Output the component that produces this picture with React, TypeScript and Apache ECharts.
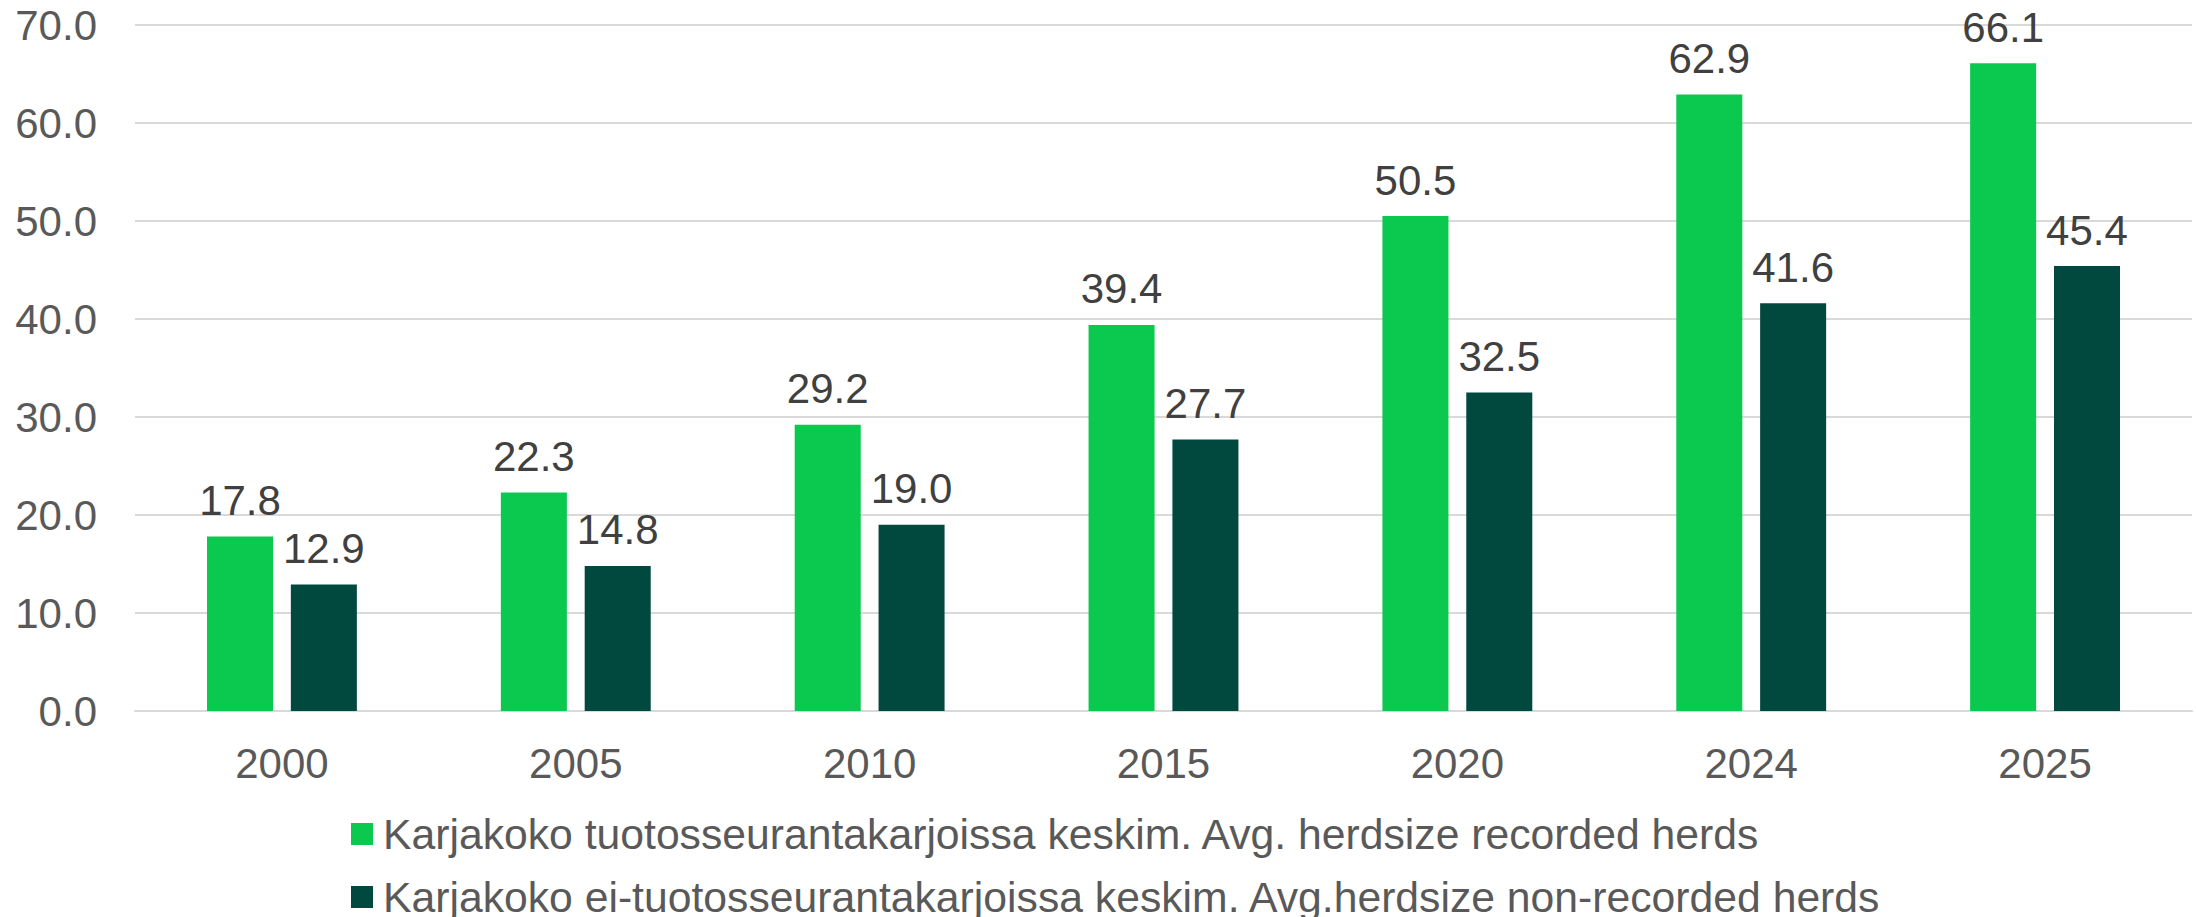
import React, { useEffect, useRef } from "react";
import * as echarts from "echarts";

const categories = ["2000", "2005", "2010", "2015", "2020", "2024", "2025"];
const recordedName = "Karjakoko tuotosseurantakarjoissa keskim. Avg. herdsize recorded herds";
const nonRecordedName = "Karjakoko ei-tuotosseurantakarjoissa keskim. Avg.herdsize non-recorded herds";
const recorded = [17.8, 22.3, 29.2, 39.4, 50.5, 62.9, 66.1];
const nonRecorded = [12.9, 14.8, 19.0, 27.7, 32.5, 41.6, 45.4];

const FONT = "'Liberation Sans', Arial, sans-serif";

export default function App() {
  const ref = useRef<HTMLDivElement>(null);
  useEffect(() => {
    if (!ref.current) return;
    const chart = echarts.init(ref.current, undefined, { renderer: "svg" });
    const label = {
      show: true,
      position: "top",
      distance: 15,
      fontSize: 42,
      fontFamily: FONT,
      color: "#404040",
      formatter: (p: any) => Number(p.value).toFixed(1),
    };
    chart.setOption({
      animation: false,
      textStyle: { fontFamily: FONT },
      grid: { left: 135, right: 4, top: 25, bottom: 206, containLabel: false },
      legend: {
        orient: "vertical",
        left: 351,
        top: 809,
        width: 1845,
        height: 200,
        padding: 0,
        itemGap: 13,
        itemWidth: 22,
        itemHeight: 22,
        icon: "rect",
        textStyle: { fontSize: 42.7, fontFamily: FONT, color: "#595959", lineHeight: 50, padding: [0, 0, 0, 5] },
        data: [recordedName, nonRecordedName],
      },
      xAxis: {
        type: "category",
        data: categories,
        axisLine: { show: true, lineStyle: { color: "#d9d9d9", width: 2 } },
        axisTick: { show: false },
        axisLabel: { fontSize: 42, fontFamily: FONT, color: "#595959", margin: 31 },
      },
      yAxis: {
        type: "value",
        min: 0,
        max: 70,
        interval: 10,
        axisLine: { show: false },
        axisTick: { show: false },
        splitLine: { lineStyle: { color: "#d9d9d9", width: 2 } },
        axisLabel: {
          fontSize: 42,
          fontFamily: FONT,
          color: "#595959",
          margin: 38,
          formatter: (v: number) => v.toFixed(1),
        },
      },
      series: [
        {
          name: recordedName,
          type: "bar",
          data: recorded,
          barGap: "27%",
          barCategoryGap: "49%",
          itemStyle: { color: "#0BC84F" },
          label,
        },
        {
          name: nonRecordedName,
          type: "bar",
          data: nonRecorded,
          barGap: "27%",
          barCategoryGap: "49%",
          itemStyle: { color: "#01483F" },
          label,
        },
      ],
    });
    return () => chart.dispose();
  }, []);
  return (
    <div
      ref={ref}
      style={{ position: "fixed", left: 0, top: 0, width: 2196, height: 917, background: "#fff" }}
    />
  );
}
